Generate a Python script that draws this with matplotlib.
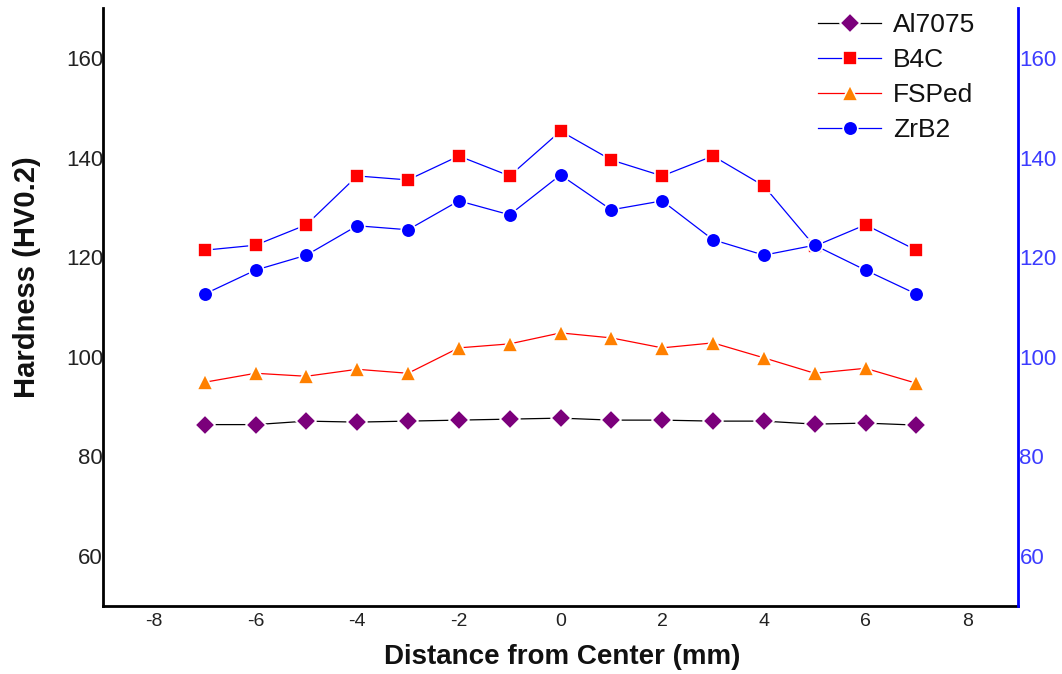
import matplotlib
matplotlib.use("Agg")
import matplotlib.pyplot as plt

plt.rcParams['font.family'] = ['Liberation Sans', 'DejaVu Sans']
plt.rcParams['axes.unicode_minus'] = False

x = [-7, -6, -5, -4, -3, -2, -1, 0, 1, 2, 3, 4, 5, 6, 7]
al7075 = [86.4, 86.4, 87.1, 86.9, 87.1, 87.3, 87.5, 87.7, 87.3, 87.3, 87.1, 87.1, 86.5, 86.7, 86.3]
b4c = [121.4, 122.4, 126.5, 136.3, 135.5, 140.3, 136.3, 145.3, 139.5, 136.3, 140.3, 134.3, 122.2, 126.5, 121.4]
fsped = [94.9, 96.7, 96.1, 97.5, 96.7, 101.8, 102.6, 104.8, 103.8, 101.8, 102.8, 99.8, 96.7, 97.7, 94.7]
zrb2 = [112.6, 117.4, 120.4, 126.3, 125.5, 131.3, 128.5, 136.5, 129.5, 131.3, 123.5, 120.4, 122.4, 117.4, 112.6]

xticks = [-8, -6, -4, -2, 0, 2, 4, 6, 8]
yticks = [60, 80, 100, 120, 140, 160]

fig = plt.figure(figsize=(10.62, 6.74), dpi=100)
ax = fig.add_axes([103/1062, 1-606/674, (1018-103)/1062, (606-8)/674])

series = [
    ("Al7075", al7075, 'black', 'D', '#7B007B', 10.5),
    ("B4C", b4c, 'blue', 's', 'red', 9.5),
    ("FSPed", fsped, 'red', '^', '#FF8000', 11.5),
    ("ZrB2", zrb2, 'blue', 'o', 'blue', 10.5),
]
for name, vals, lc, mk, mc, ms in series:
    ax.plot(x, vals, color=lc, lw=0.9, marker=mk, markersize=ms,
            markerfacecolor=mc, markeredgecolor='white', markeredgewidth=1.2,
            label=name)

ax.set_xlim(-9, 9)
ax.set_ylim(50, 170)
ax.set_xticks(xticks)
ax.set_yticks(yticks)
ax.tick_params(axis='x', length=0, labelsize=14, pad=5, colors='#222222')
ax.tick_params(axis='y', length=0, labelsize=16, pad=0, colors='#222222')
ax.spines['top'].set_visible(False)
ax.spines['right'].set_visible(False)
ax.spines['left'].set_linewidth(2)
ax.spines['bottom'].set_linewidth(2)

ax2 = ax.twinx()
ax2.set_ylim(50, 170)
ax2.set_yticks(yticks)
ax2.tick_params(axis='y', length=0, labelsize=16, pad=1, colors='#3C3CFF')
ax2.spines['top'].set_visible(False)
ax2.spines['left'].set_visible(False)
ax2.spines['bottom'].set_visible(False)
ax2.spines['right'].set_color('blue')
ax2.spines['right'].set_linewidth(2)

fig.text(562/1062, 1-657/674, "Distance from Center (mm)", fontsize=20,
         fontweight='bold', ha='center', va='center', color='#111111')
fig.text(27/1062, 1-277/674, "Hardness (HV0.2)", fontsize=21, rotation=90,
         fontweight='bold', ha='center', va='center', color='#111111')

leg = ax.legend(loc='upper left', bbox_to_anchor=(818/1062, 1-13/674),
                bbox_transform=fig.transFigure, frameon=False, borderpad=0,
                borderaxespad=0, fontsize=19, handlelength=2.4,
                labelspacing=0.42, handletextpad=0.45)
for t in leg.get_texts():
    t.set_color('#111111')

fig.savefig("out.png", dpi=100)
